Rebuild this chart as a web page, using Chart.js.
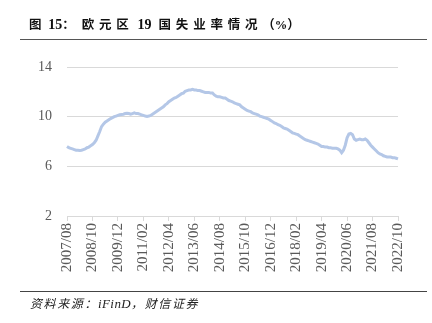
<!DOCTYPE html>
<html>
<head>
<meta charset="utf-8">
<script src="https://cdn.jsdelivr.net/npm/chart.js@4/dist/chart.umd.min.js"></script>
<style>
  html, body { margin: 0; padding: 0; background: #fff; }
  #wrap { position: relative; width: 432px; height: 323px; overflow: hidden; }
  #chart { position: absolute; left: 0; top: 0; }
  .title {
    position: absolute; left: 29px; top: 16px;
    font-family: "Liberation Serif", "Noto Sans CJK SC", serif;
    font-weight: bold; font-size: 12.5px; letter-spacing: 4.8px; color: #111;
    white-space: nowrap; line-height: 18px;
  }
  .title .num { font-size: 14px; letter-spacing: 0; }
  .title .tight { letter-spacing: 0; }
  .title .gap { display: inline-block; }
  .rule { position: absolute; left: 20px; width: 407px; height: 0; }
  .rule.top { top: 39px; border-top: 1.5px solid #555; }
  .rule.bottom { top: 291px; border-top: 1.5px solid #444; }
  .source {
    position: absolute; left: 30px; top: 296px;
    font-family: "Liberation Serif", "Noto Sans CJK SC", serif;
    font-style: italic; font-size: 12px; letter-spacing: 1.6px; color: #222;
    white-space: nowrap; line-height: 16px;
  }
  .source .latin { letter-spacing: 0.4px; font-size: 13px; }
</style>
</head>
<body>
<div id="wrap">
  <canvas id="chart" width="432" height="323"></canvas>
  <div class="title">图<span class="gap" style="width:2px"></span><span class="num">15</span>：<span class="gap" style="width:2px"></span>欧元区<span class="gap" style="width:4px"></span><span class="num">19</span><span class="gap" style="width:7px"></span>国失业率情况<span class="tight">（%）</span></div>
  <div class="rule top"></div>
  <div class="rule bottom"></div>
  <div class="source">资料来源：<span class="latin">iFinD</span>，财信证券</div>
</div>
<script>
// Monthly euro area (19 countries) unemployment rate, %, 2007/08 - 2022/10
const startYear = 2007;
const startMonth = 8;
const rate2007 = [7.6, 7.5, 7.45, 7.4, 7.35];
const rate2008 = [7.3, 7.3, 7.28, 7.3, 7.35, 7.4, 7.5, 7.55, 7.65, 7.75, 7.9, 8.1];
const rate2009 = [8.45, 8.8, 9.2, 9.4, 9.55, 9.65, 9.75, 9.85, 9.92, 10.0, 10.05, 10.1];
const rate2010 = [10.15, 10.18, 10.2, 10.25, 10.28, 10.25, 10.2, 10.25, 10.3, 10.25, 10.25, 10.2];
const rate2011 = [10.15, 10.1, 10.05, 10.02, 10.05, 10.1, 10.2, 10.3, 10.4, 10.5, 10.6, 10.7];
const rate2012 = [10.8, 10.95, 11.05, 11.2, 11.3, 11.4, 11.5, 11.55, 11.65, 11.75, 11.85, 11.9];
const rate2013 = [12.05, 12.1, 12.15, 12.15, 12.2, 12.15, 12.15, 12.1, 12.1, 12.05, 12.0, 11.95];
const rate2014 = [11.95, 11.95, 11.9, 11.9, 11.75, 11.65, 11.6, 11.6, 11.55, 11.5, 11.5, 11.4];
const rate2015 = [11.3, 11.25, 11.2, 11.1, 11.05, 11.0, 10.95, 10.8, 10.7, 10.6, 10.5, 10.45];
const rate2016 = [10.4, 10.3, 10.25, 10.2, 10.15, 10.05, 10.0, 9.95, 9.9, 9.85, 9.8, 9.7];
const rate2017 = [9.6, 9.5, 9.45, 9.35, 9.3, 9.2, 9.1, 9.05, 9.0, 8.9, 8.8, 8.7];
const rate2018 = [8.65, 8.6, 8.55, 8.45, 8.35, 8.25, 8.15, 8.1, 8.05, 8.0, 7.95, 7.9];
const rate2019 = [7.85, 7.8, 7.7, 7.6, 7.6, 7.55, 7.55, 7.5, 7.5, 7.45, 7.45, 7.45];
const rate2020 = [7.4, 7.3, 7.1, 7.3, 7.7, 8.3, 8.6, 8.65, 8.55, 8.2, 8.1, 8.15];
const rate2021 = [8.2, 8.15, 8.15, 8.2, 8.1, 7.9, 7.7, 7.55, 7.4, 7.25, 7.1, 7.0];
const rate2022 = [6.95, 6.85, 6.8, 6.75, 6.75, 6.75, 6.7, 6.7, 6.65, 6.6];

const rates = [].concat(rate2007, rate2008, rate2009, rate2010, rate2011, rate2012,
  rate2013, rate2014, rate2015, rate2016, rate2017, rate2018, rate2019, rate2020,
  rate2021, rate2022);

// Category labels "YYYY/MM", one per month
const months = rates.map((_, i) => {
  const m0 = startMonth - 1 + i;
  const y = startYear + Math.floor(m0 / 12);
  const m = (m0 % 12) + 1;
  return y + '/' + String(m).padStart(2, '0');
});

const labelStep = 14;          // a tick label every 14 months
const yTicks = [2, 6, 10, 14];

new Chart(document.getElementById('chart'), {
  type: 'line',
  data: {
    labels: months,
    datasets: [{
      data: rates,
      borderColor: '#b4c7e7',
      borderWidth: 3,
      pointRadius: 0,
      tension: 0,
      fill: false
    }]
  },
  options: {
    responsive: false,
    animation: false,
    events: [],
    layout: { padding: { left: 0, top: 67, right: 34, bottom: 0 } },
    plugins: { legend: { display: false }, tooltip: { enabled: false } },
    scales: {
      x: {
        type: 'category',
        offset: false,
        afterFit: (s) => { s.height = 107; },
        border: { display: true, color: '#d9d9d9', width: 1 },
        grid: {
          display: true,
          drawOnChartArea: false,
          drawTicks: true,
          tickLength: 5,
          color: (ctx) => (ctx.index % labelStep === 0 ? '#d9d9d9' : 'rgba(0,0,0,0)')
        },
        ticks: {
          autoSkip: false,
          maxRotation: 90,
          minRotation: 90,
          padding: 2,
          color: '#595959',
          font: { family: 'Liberation Serif', size: 15 },
          callback: function (v, i) { return i % labelStep === 0 ? this.getLabelForValue(v) : ''; }
        }
      },
      y: {
        min: 2,
        max: 14,
        afterFit: (s) => { s.width = 67; },
        afterBuildTicks: (s) => { s.ticks = yTicks.map(v => ({ value: v })); },
        border: { display: false },
        grid: { color: '#d9d9d9', lineWidth: 1, drawTicks: false },
        ticks: {
          padding: 15,
          color: '#595959',
          font: { family: 'Liberation Serif', size: 14 }
        }
      }
    }
  }
});
</script>
</body>
</html>
